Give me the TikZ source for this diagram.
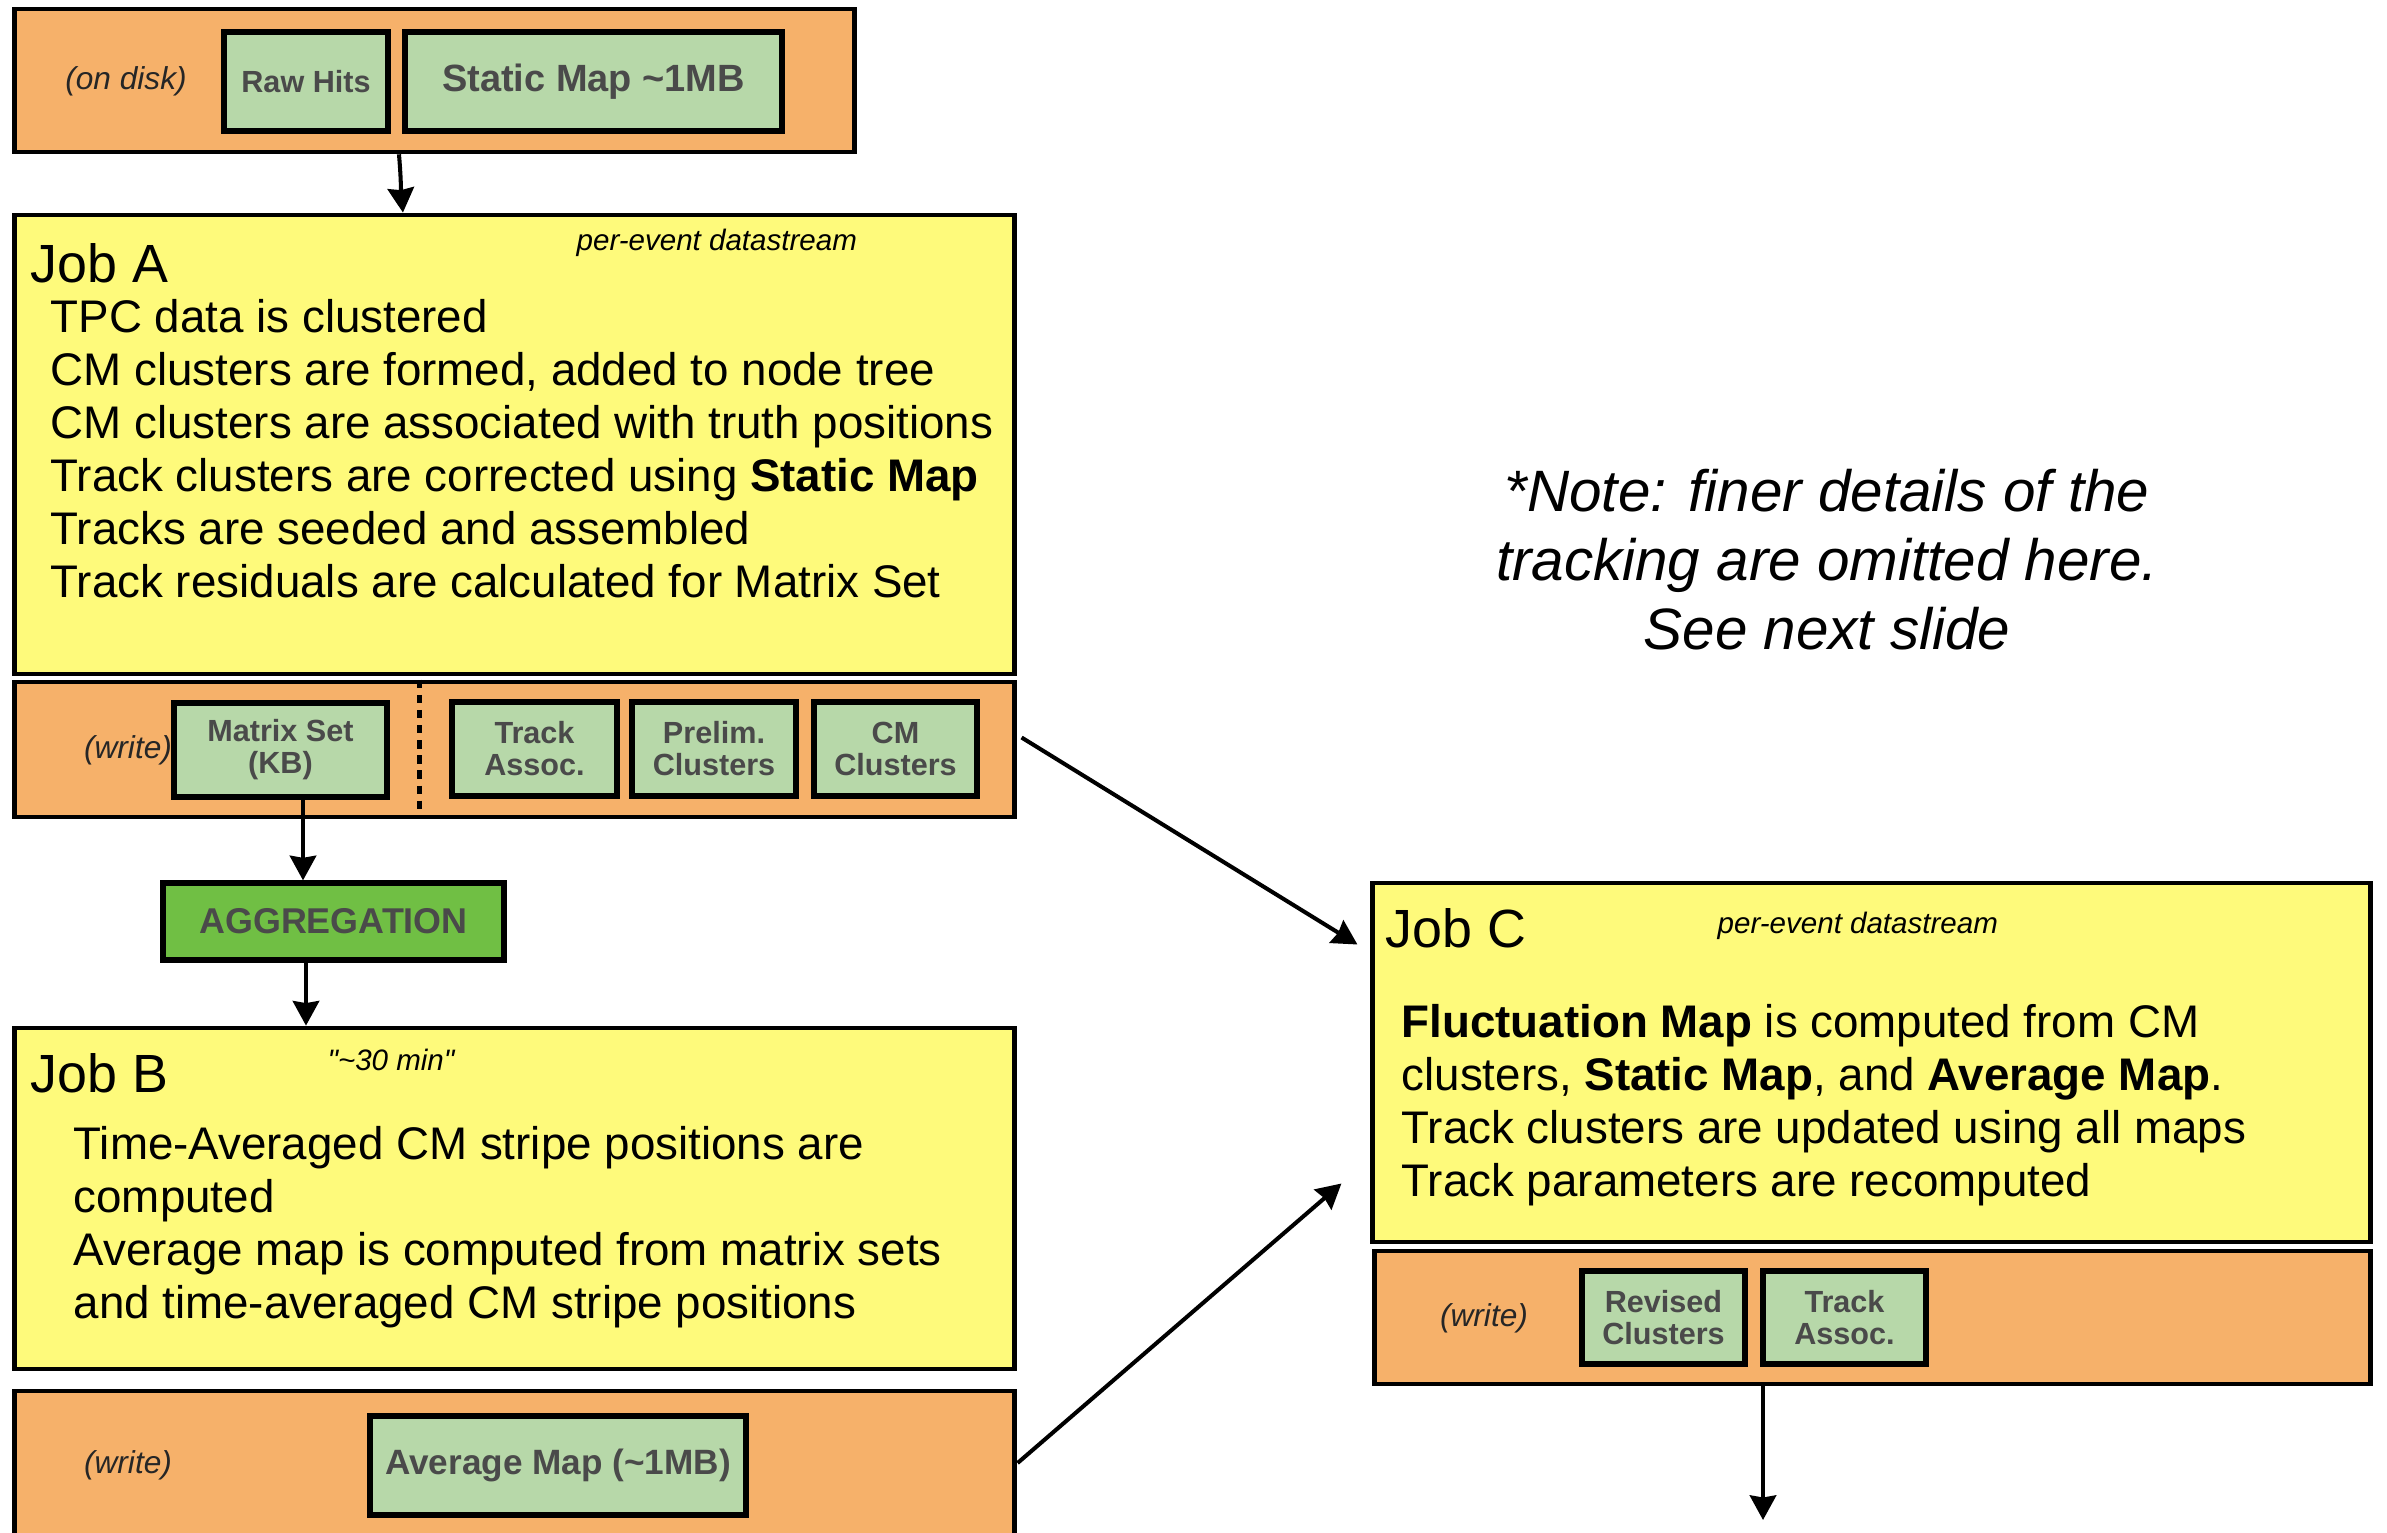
\documentclass[tikz,border=0pt]{standalone}
\usepackage{fontspec}
\setmainfont{Liberation Sans}
\usepackage{tikz}
\usetikzlibrary{arrows.meta, positioning, calc}

\definecolor{diskorange}{HTML}{F6B16A}
\definecolor{jobyellow}{HTML}{FEFA7B}
\definecolor{itemgreen}{HTML}{B7D8A9}
\definecolor{agggreen}{HTML}{70BF44}
\definecolor{itemtext}{HTML}{4A4A4A}

\newcommand{\fsz}[2]{\fontsize{#1}{#2}\selectfont}

\begin{document}
\begin{tikzpicture}[x=0.01cm, y=-0.01cm, >=Stealth, line join=miter]
    % Styles
    \tikzset{
        store/.style={draw=black, fill=diskorange, line width=1.3pt, inner sep=0pt},
        job/.style={draw=black, fill=jobyellow, line width=1.3pt, inner sep=0pt},
        item/.style={draw=black, fill=itemgreen, line width=1.5pt, text=itemtext, align=center,
            font=\bfseries\fsz{8.7}{9.1}, minimum height=0.99cm, inner sep=0pt},
        aggbox/.style={draw=black, fill=agggreen, line width=1.5pt, text=itemtext,
            font=\bfseries\fsz{10.2}{12}, inner sep=0pt},
        tag/.style={font=\itshape\fsz{9}{11}, text=black!85, inner sep=0pt},
        title/.style={font=\fsz{15.3}{18}, inner sep=0pt},
        stream/.style={font=\itshape\fsz{8.4}{10}, inner sep=0pt},
        body/.style={font=\fsz{13}{15.08}, align=left, inner sep=0pt},
        flow/.style={-{Stealth[length=7pt, width=7.5pt, inset=0.6pt]}, line width=1.15pt},
        divider/.style={line width=1.3pt, dash pattern=on 2.4pt off 1.9pt}
    }
    \useasboundingbox (0,0) rectangle (2387,1533);

    % --- Input on disk ---
    \node[store, minimum width=8.39cm, minimum height=1.43cm] (disk) at (434.5,80.5) {};
    \node[tag] (disklbl) at (126,81) {(on disk)};
    \node[item, minimum width=1.64cm] (rawhits) at (306,81.5) {Raw Hits};
    \node[item, minimum width=3.77cm, font=\bfseries\fsz{10.8}{12}] (staticmap) at (593.5,81.5) {Static Map \textasciitilde 1MB};

    % --- Job A ---
    \node[job, minimum width=9.99cm, minimum height=4.59cm] (jobA) at (514.5,444.5) {};
    \node[title, anchor=base west] (jobAtitle) at (30,282) {Job A};
    \node[stream, anchor=base west] (jobAstream) at (576,250) {per-event datastream};
    \node[body, anchor=north west] (jobAtext) at (50,299) {TPC data is clustered\\
        CM clusters are formed, added to node tree\\
        CM clusters are associated with truth positions\\
        Track clusters are corrected using \textbf{Static Map}\\
        Tracks are seeded and assembled\\
        Track residuals are calculated for Matrix Set};

    % --- Job A output ---
    \node[store, minimum width=9.99cm, minimum height=1.35cm] (writeA) at (514.5,749.5) {};
    \node[tag] (writeAlbl) at (128,750) {(write)};
    \node[item, minimum width=2.13cm, minimum height=0.94cm] (matrix) at (280.5,750) {Matrix Set\\(KB)};
    \node[item, minimum width=1.65cm, minimum height=0.94cm] (trackA) at (534.5,749) {Track\\Assoc.};
    \node[item, minimum width=1.64cm, minimum height=0.94cm] (prelim) at (714,749) {Prelim.\\Clusters};
    \node[item, minimum width=1.63cm, minimum height=0.94cm] (cmclus) at (895.5,749) {CM\\Clusters};
    \coordinate (gap) at ($(matrix.east)!0.5!(trackA.west)$);
    \draw[divider] (gap |- writeA.north) -- (gap |- writeA.south);

    % --- Aggregation ---
    \node[aggbox, minimum width=3.41cm, minimum height=0.77cm] (agg) at (333.5,921.5) {AGGREGATION};

    % --- Job B ---
    \node[job, minimum width=9.99cm, minimum height=3.41cm] (jobB) at (514.5,1198.5) {};
    \node[title, anchor=base west] (jobBtitle) at (30,1092) {Job B};
    \node[stream, anchor=base] (jobBtime) at (391,1070) {\textquotedbl\textasciitilde 30 min\textquotedbl};
    \node[body, anchor=north west] (jobBtext) at (73,1126) {Time-Averaged CM stripe positions are\\
        computed\\
        Average map is computed from matrix sets\\
        and time-averaged CM stripe positions};

    % --- Job B output ---
    \node[store, minimum width=9.99cm, minimum height=1.80cm] (writeB) at (514.5,1481) {};
    \node[tag] (writeBlbl) at (128,1465) {(write)};
    \node[item, minimum width=3.76cm, font=\bfseries\fsz{10}{12}] (avgmap) at (558,1465.5) {Average Map (\textasciitilde 1MB)};

    % --- Job C ---
    \node[job, minimum width=9.97cm, minimum height=3.59cm] (jobC) at (1871.5,1062.5) {};
    \node[title, anchor=base west] (jobCtitle) at (1385,947) {Job C};
    \node[stream, anchor=base west] (jobCstream) at (1717,933) {per-event datastream};
    \node[body, anchor=north west] (jobCtext) at (1401,1004) {\textbf{Fluctuation Map} is computed from CM\\
        clusters, \textbf{Static Map}, and \textbf{Average Map}.\\
        Track clusters are updated using all maps\\
        Track parameters are recomputed};

    % --- Job C output ---
    \node[store, minimum width=9.95cm, minimum height=1.33cm] (writeC) at (1872.5,1317.5) {};
    \node[tag] (writeClbl) at (1484,1318) {(write)};
    \node[item, minimum width=1.63cm, minimum height=0.93cm] (revised) at (1663.5,1317.5) {Revised\\Clusters};
    \node[item, minimum width=1.63cm, minimum height=0.93cm] (trackC) at (1844.5,1317.5) {Track\\Assoc.};
    \coordinate (nextjob) at (1763,1520);

    % --- Side note ---
    \node[font=\itshape\fsz{16.6}{19.6}, align=center, inner sep=0pt] (remark) at (1827,560)
        {*Note: finer details of the\\tracking are omitted here.\\See next slide};

    % --- Data flow ---
    \draw[flow] ([xshift=-3.55mm]disk.south) to[out=-85, in=95] ([xshift=-11.15mm]jobA.north);
    \draw[flow] ([xshift=2.25mm]matrix.south) -- ([xshift=2.25mm]matrix.south |- agg.north);
    \draw[flow] ([xshift=-2.75mm]agg.south) -- ([xshift=-2.75mm]agg.south |- jobB.north);
    \draw[flow] ($(writeA.east)+(5,-12)$) -- ($(jobC.west)+(-13,-118)$);
    \draw[flow] ($(writeB.east)+(1,-18)$) -- ($(jobC.west)+(-29,121)$);
    \draw[flow] (writeC.south -| nextjob) -- (nextjob);
\end{tikzpicture}
\end{document}
